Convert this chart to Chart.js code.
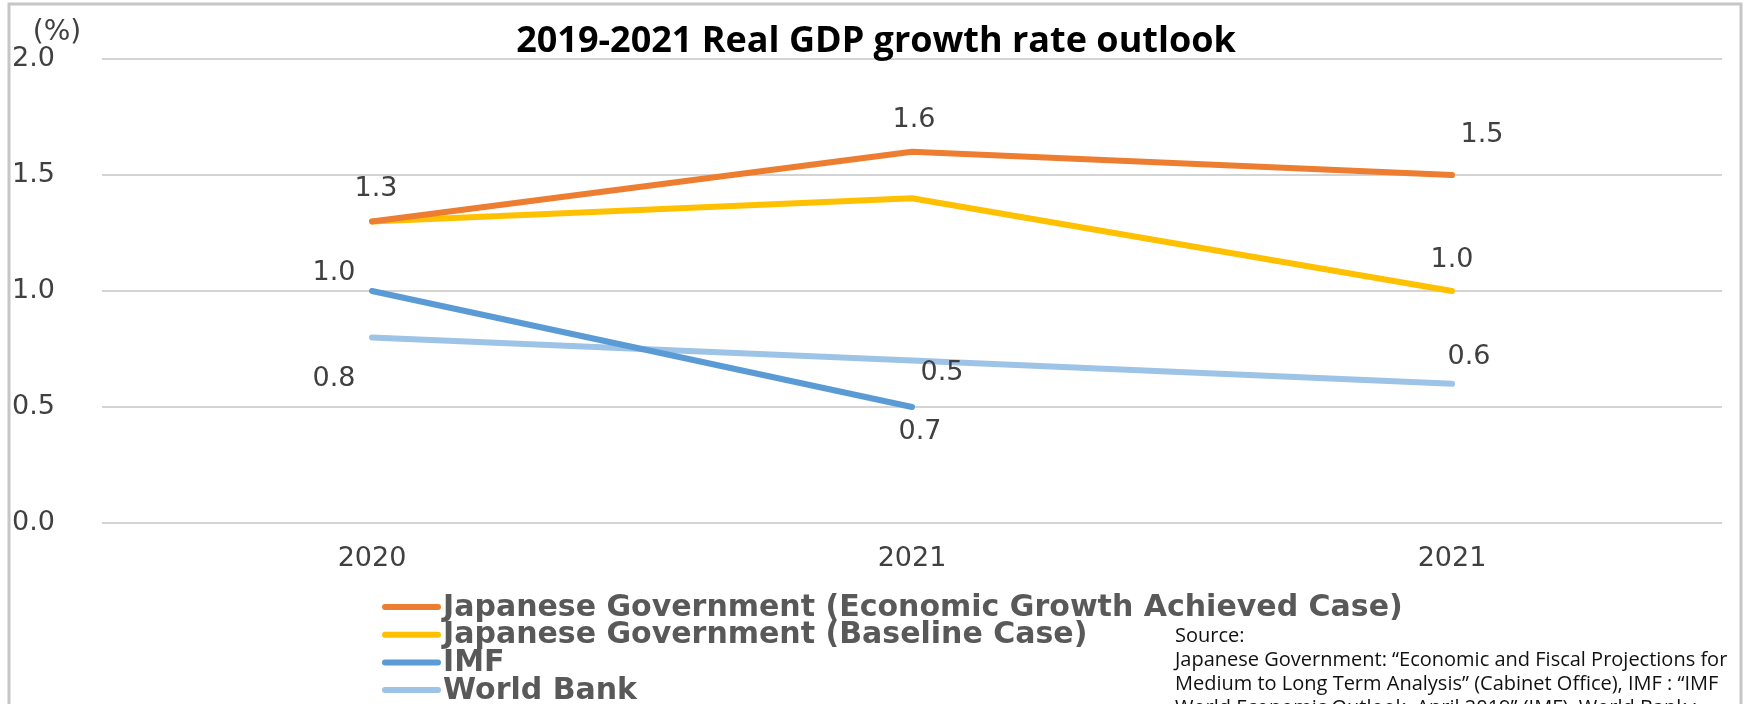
<!DOCTYPE html>
<html>
<head>
<meta charset="utf-8">
<title>2019-2021 Real GDP growth rate outlook</title>
<script src="https://cdn.jsdelivr.net/npm/chart.js@4"></script>
<style>
  html, body { margin: 0; padding: 0; background: #fff; }
  canvas { display: block; }
</style>
</head>
<body>
<canvas id="gdpChart" width="1746" height="704"></canvas>
<script>
// data
const categories = ["2020", "2021", "2021"];
const jgGrowth   = [1.3, 1.6, 1.5];
const jgBaseline = [1.3, 1.4, 1.0];
const imf        = [1.0, 0.5, null];
const worldBank  = [0.8, 0.7, 0.6];

const seriesNames = [
  "Japanese Government (Economic Growth Achieved Case)",
  "Japanese Government (Baseline Case)",
  "IMF",
  "World Bank",
];
const yTicks = [0, 0.5, 1.0, 1.5, 2.0];

const titleText = "2019-2021 Real GDP growth rate outlook";
const sourceLines = [
  "Source:",
  "Japanese Government: \u201cEconomic and Fiscal Projections for",
  "Medium to Long Term Analysis\u201d (Cabinet Office), IMF : \u201cIMF",
  "World Economic Outlook, April 2019\u201d (IMF), World Bank :",
];

const COLORS = ["#ED7D31", "#FFC000", "#5B9BD5", "#9DC3E6"];
const TEXT_FONT = "'DejaVu Sans'";

// where each value label sits relative to its point (null = no label)
const LABEL_OFFSETS = [
  [[4, -32], [2, -32], [30, -40]],
  [null, null, [0, -31]],
  [[-38, -18], [30, -34], null],
  [[-38, 42], [8, 71], [17, -27]],
];

// ─── Plugins ────────────────────────────────────────────────────────────────
const framePlugin = {
  id: "frame",
  beforeDraw(chart) {
    const ctx = chart.ctx;
    ctx.save();
    ctx.strokeStyle = "#c6c6c6";
    ctx.lineWidth = 3;
    ctx.strokeRect(9, 4, 1732, 740);
    ctx.restore();
  }
};

const valueLabels = {
  id: "valueLabels",
  afterDatasetsDraw(chart) {
    const ctx = chart.ctx;
    ctx.save();
    ctx.font = "27px " + TEXT_FONT;
    ctx.fillStyle = "#404040";
    ctx.textAlign = "center";
    ctx.textBaseline = "middle";
    chart.data.datasets.forEach((ds, i) => {
      const meta = chart.getDatasetMeta(i);
      meta.data.forEach((pt, j) => {
        const off = LABEL_OFFSETS[i][j];
        if (!off || ds.data[j] == null) return;
        ctx.fillText(ds.data[j].toFixed(1), pt.x + off[0], pt.y + off[1]);
      });
    });
    ctx.restore();
  }
};

const decorations = {
  id: "decorations",
  afterDraw(chart) {
    const ctx = chart.ctx;
    ctx.save();

    // title
    ctx.font = "bold 36px 'Open Sans'";
    ctx.fillStyle = "#000";
    ctx.textAlign = "center";
    ctx.textBaseline = "middle";
    ctx.fillText(titleText, 876, 42);

    // unit
    ctx.font = "28px " + TEXT_FONT;
    ctx.fillStyle = "#404040";
    ctx.fillText("(%)", 57, 33);

    // legend
    ctx.textAlign = "left";
    ctx.font = "bold 30px " + TEXT_FONT;
    chart.data.datasets.forEach((ds, i) => {
      const y = 607 + i * 27.7;
      ctx.strokeStyle = ds.borderColor;
      ctx.lineWidth = 6;
      ctx.lineCap = "round";
      ctx.beginPath();
      ctx.moveTo(385, y);
      ctx.lineTo(438, y);
      ctx.stroke();
      ctx.fillStyle = "#595959";
      ctx.fillText(ds.label, 443, y + 1);
    });

    // source note
    ctx.font = "20px 'Open Sans'";
    ctx.fillStyle = "#111";
    sourceLines.forEach((line, i) => ctx.fillText(line, 1175, 636 + i * 24));

    ctx.restore();
  }
};

// ─── Chart ──────────────────────────────────────────────────────────────────
const seriesData = [jgGrowth, jgBaseline, imf, worldBank];

new Chart(document.getElementById("gdpChart"), {
  type: "line",
  data: {
    labels: categories,
    datasets: seriesData.map((d, i) => ({
      label: seriesNames[i],
      data: d,
      borderColor: COLORS[i],
      backgroundColor: COLORS[i],
      borderWidth: 6,
      borderCapStyle: "round",
      borderJoinStyle: "round",
      pointRadius: 0,
      tension: 0,
      fill: false,
    })),
  },
  options: {
    responsive: false,
    animation: false,
    layout: { padding: { left: 12, right: 24, top: 59, bottom: 121 } },
    plugins: {
      legend: { display: false },
      title: { display: false },
      tooltip: { enabled: false },
    },
    scales: {
      x: {
        offset: true,
        grid: { display: false, drawTicks: false },
        border: { display: false },
        ticks: {
          font: { family: TEXT_FONT, size: 27 },
          color: "#404040",
          padding: 20,
        },
        afterFit: s => { s.height = 60; },
      },
      y: {
        min: 0,
        max: 2,
        afterBuildTicks: s => { s.ticks = yTicks.map(v => ({ value: v })); },
        grid: { color: "#d4d4d4", lineWidth: 2, drawTicks: false },
        border: { display: false },
        ticks: {
          font: { family: TEXT_FONT, size: 27 },
          color: "#404040",
          crossAlign: "far",
          padding: 0,
          callback: v => v.toFixed(1),
        },
        afterFit: s => { s.width = 90; },
      },
    },
  },
  plugins: [framePlugin, valueLabels, decorations],
});
</script>
</body>
</html>
